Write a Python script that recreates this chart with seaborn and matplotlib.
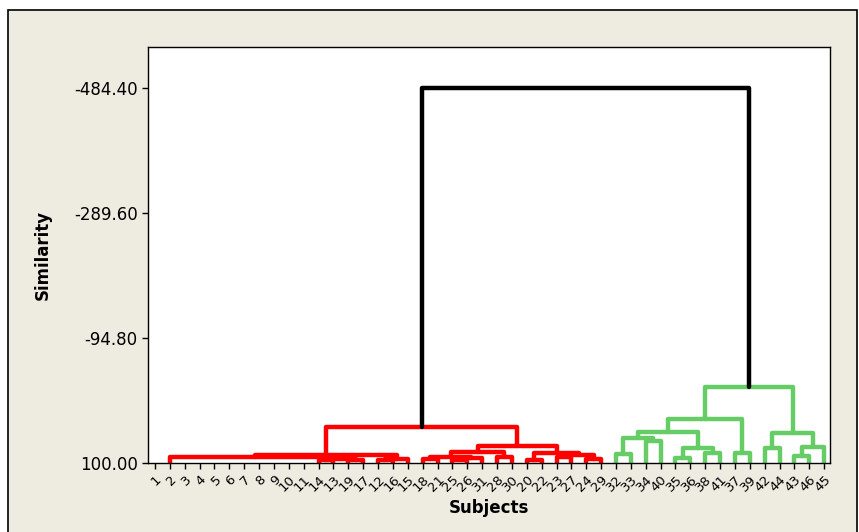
import numpy as np
import pandas as pd
import seaborn as sns
import matplotlib
matplotlib.use("Agg")
import matplotlib.pyplot as plt
from matplotlib.patches import Rectangle

# leaf order along the x axis (subject numbers)
leaf_labels = [1, 2, 3, 4, 5, 6, 7, 8, 9, 10, 11, 14, 13, 19, 17, 12, 16, 15, 18,
               21, 25, 26, 31, 28, 30, 20, 22, 23, 27, 24, 29,
               32, 33, 34, 40, 35, 36, 38, 41, 37, 39, 42, 44, 43, 46, 45]

# merges: children are leaf positions (0..45) or earlier merges (46 + k)
merge_left = [9, 8, 7, 6, 5, 4, 3, 2, 1, 0,
              11, 13, 56, 55, 15, 60, 59,
              18, 20, 64, 63, 23, 66, 25, 27, 29, 70, 69, 68, 62,
              31, 33, 76, 35, 37, 79, 78, 39, 82, 41, 43, 86, 85, 84,
              75]
merge_right = [10, 46, 47, 48, 49, 50, 51, 52, 53, 54,
               12, 14, 57, 58, 16, 17, 61,
               19, 21, 22, 65, 24, 67, 26, 28, 30, 71, 72, 73, 74,
               32, 34, 77, 36, 38, 80, 81, 40, 83, 42, 44, 45, 87, 88,
               89]
merge_sim = [100, 100, 100, 100, 100, 100, 100, 100, 100, 100,
             96.1, 95.3, 93.8, 90.6, 96.1, 93.0, 87.5,
             94.5, 95.3, 92.2, 90.2, 90.6, 82.4, 95.3, 91.4, 93.0, 87.5, 83.9, 73.5, 43.9,
             86.4, 65.7, 60.6, 92.7, 84.9, 77.1, 52.2, 84.9, 31.4, 77.1, 88.6, 74.6, 53.7, -18.9,
             -484.4]

y_ticks = [-484.40, -289.60, -94.80, 100.00]
cluster_colors = {"left": "#FF0000", "right": "#66CC66", "root": "#000000"}

n = len(leaf_labels)
pos = {i: float(i) for i in range(n)}
hgt = {i: 100.0 for i in range(n)}
for k, (a, b, s) in enumerate(zip(merge_left, merge_right, merge_sim)):
    pos[n + k] = (pos[a] + pos[b]) / 2
    hgt[n + k] = s

# colour groups: root link black, its two subtrees red / green
root = n + len(merge_sim) - 1
group = {root: "root"}
for node in range(root, n - 1, -1):
    a, b = merge_left[node - n], merge_right[node - n]
    if node == root:
        group[a], group[b] = "left", "right"
    else:
        group[a] = group[b] = group[node]

rows = []
for k, (a, b, s) in enumerate(zip(merge_left, merge_right, merge_sim)):
    if s >= 100:
        continue  # zero-distance joins sit on the axis
    g = group[n + k]
    pts = [(pos[a], hgt[a]), (pos[a], s), (pos[b], s), (pos[b], hgt[b])]
    for x, y in pts:
        rows.append((k, x, y, g))
df = pd.DataFrame(rows, columns=["link", "x", "y", "group"])

sns.set_style("ticks")
plt.rcParams["font.family"] = ["DejaVu Sans"]
plt.rcParams["text.color"] = "black"
plt.rcParams["axes.labelcolor"] = "black"
plt.rcParams["xtick.color"] = "black"
plt.rcParams["ytick.color"] = "black"

fig = plt.figure(figsize=(8.59, 5.32), dpi=100)
fig.patch.set_facecolor("white")
fig.add_artist(Rectangle((8 / 859, -0.05), 849 / 859, 1 - 10 / 532 + 0.05,
                         transform=fig.transFigure, facecolor="#EEEBE1",
                         edgecolor="black", linewidth=1.2, zorder=-5))

ax = fig.add_axes([148 / 859, 1 - 463 / 532, 682 / 859, 416 / 532])
ax.set_facecolor("white")

sns.lineplot(data=df, x="x", y="y", units="link", estimator=None, hue="group",
             palette=cluster_colors, sort=False, legend=False, linewidth=3.2,
             ax=ax)

ax.set_xlim(-0.47, 45.39)
ax.set_ylim(100, -548.3)

ax.set_yticks(y_ticks)
ax.set_yticklabels([f"{v:.2f}" for v in y_ticks], fontsize=12, color="black")
ax.set_xticks(range(n))
ax.set_xticklabels([str(v) for v in leaf_labels], fontsize=9.5, rotation=45,
                   ha="right", va="top", rotation_mode="anchor", color="black")
ax.tick_params(axis="both", direction="out", length=4, width=1, color="black")
ax.tick_params(axis="x", pad=3)

for sp in ax.spines.values():
    sp.set_visible(True)
    sp.set_color("black")
    sp.set_linewidth(1)

ax.set_ylabel("Similarity", fontsize=12, fontweight="bold", color="black")
ax.set_xlabel("Subjects", fontsize=12, fontweight="bold", color="black")
ax.yaxis.set_label_coords(-0.141, 0.5)
ax.xaxis.set_label_coords(0.5, -0.0865)

fig.savefig("out.png", dpi=100, facecolor=fig.get_facecolor())
